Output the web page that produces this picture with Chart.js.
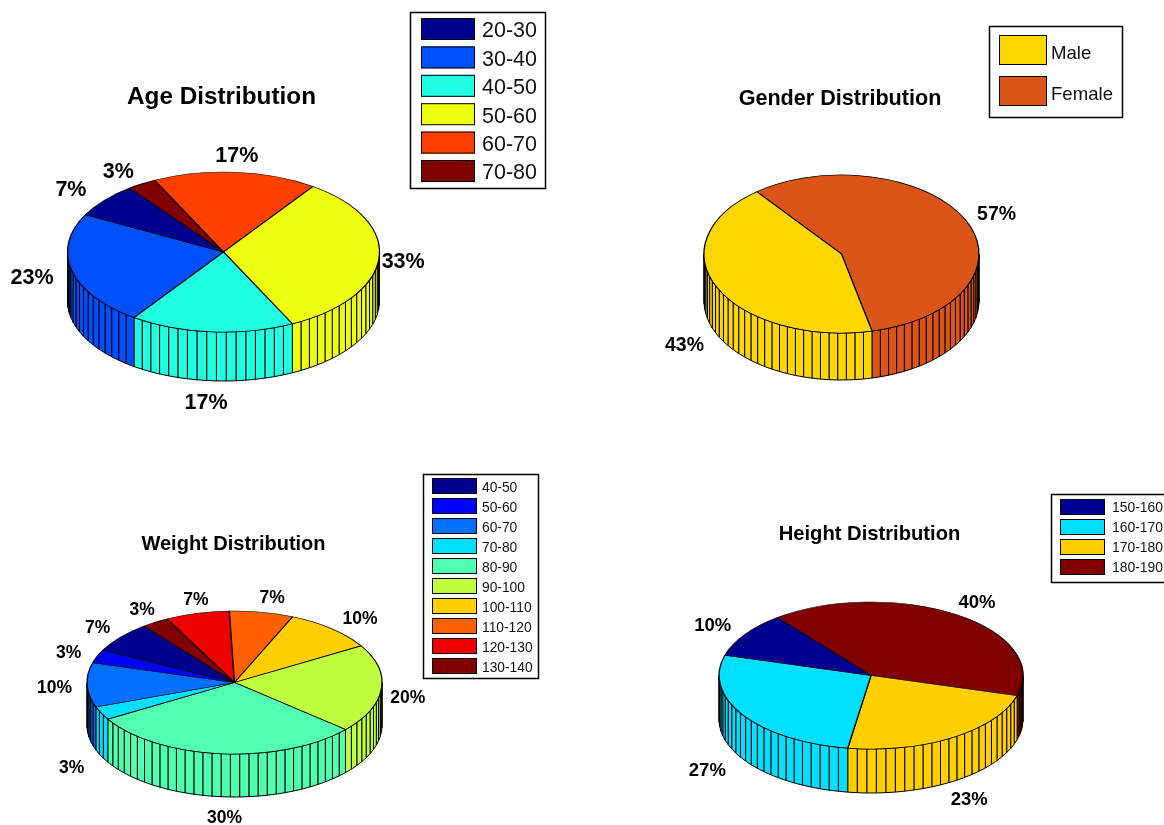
<!DOCTYPE html>
<html>
<head>
<meta charset="utf-8">
<title>Patient Distributions</title>
<script src="https://cdn.jsdelivr.net/npm/chart.js@4"></script>
<style>
  html, body { margin: 0; padding: 0; background: #fff; }
  #page { position: relative; width: 1164px; height: 825px; overflow: hidden; }
  canvas { position: absolute; }
</style>
</head>
<body>
<div id="page">
  <canvas id="ageChart" width="582" height="413" style="left:0;top:0"></canvas>
  <canvas id="genderChart" width="582" height="413" style="left:582px;top:0"></canvas>
  <canvas id="weightChart" width="582" height="413" style="left:0;top:412px"></canvas>
  <canvas id="heightChart" width="582" height="413" style="left:582px;top:412px"></canvas>
</div>
<script>
const ageLabels = ['20-30', '30-40', '40-50', '50-60', '60-70', '70-80'];
const ageValues = [7, 23, 17, 33, 17, 3];
const ageColors = ['#00008f', '#0050ff', '#20ffdf', '#efff10', '#ff4000', '#800000'];

const genderLabels = ['Male', 'Female'];
const genderValues = [43, 57];
const genderColors = ['#ffd700', '#db5519'];

const weightLabels = ['40-50', '50-60', '60-70', '70-80', '80-90', '90-100', '100-110', '110-120', '120-130', '130-140'];
const weightValues = [7, 3, 10, 3, 30, 20, 10, 7, 7, 3];
const weightColors = ['#00008f', '#0000ff', '#0070ff', '#00dfff', '#50ffaf', '#bfff40', '#ffcf00', '#ff6000', '#ef0000', '#800000'];

const heightLabels = ['150-160', '160-170', '170-180', '180-190'];
const heightValues = [10, 27, 23, 40];
const heightColors = ['#00008f', '#00dfff', '#ffcf00', '#800000'];

const FONT = '"Liberation Sans", Arial, sans-serif';

// Draws the rim below the pie, one facet per percent like the old 3D pies
function drawWall(chart, opts) {
  const ctx = chart.ctx;
  const arcs = chart.getDatasetMeta(0).data;
  const values = chart.data.datasets[0].data;
  const total = values.reduce((a, b) => a + b, 0);

  arcs.forEach((arc, i) => {
    const p = arc.getProps(['x', 'y', 'startAngle', 'endAngle', 'outerRadius']);
    const facets = Math.ceil(100 * values[i] / total);
    const step = (p.endAngle - p.startAngle) / facets;
    const rx = p.outerRadius;
    const ry = opts.ry;

    for (let f = 0; f < facets; f++) {
      const a0 = p.startAngle + f * step;
      const a1 = a0 + step;
      // only the part of a facet that faces the viewer
      for (let k = -4; k <= 4; k++) {
        const lo = Math.max(a0 + k * Math.PI, 0);
        const hi = Math.min(a1 + k * Math.PI, Math.PI);
        if (k % 2 !== 0 || hi <= lo) continue;
        const x0 = p.x + rx * Math.cos(lo), y0 = p.y + ry * Math.sin(lo);
        const x1 = p.x + rx * Math.cos(hi), y1 = p.y + ry * Math.sin(hi);
        ctx.beginPath();
        ctx.moveTo(x0, y0);
        ctx.lineTo(x1, y1);
        ctx.lineTo(x1, y1 + opts.depth);
        ctx.lineTo(x0, y0 + opts.depth);
        ctx.closePath();
        ctx.fillStyle = arc.options.backgroundColor;
        ctx.fill();
        ctx.strokeStyle = '#000';
        ctx.lineWidth = 1;
        ctx.stroke();
      }
    }
  });
}

function drawPercents(chart, opts) {
  const ctx = chart.ctx;
  const arcs = chart.getDatasetMeta(0).data;
  const n = arcs.length;

  ctx.font = 'bold ' + opts.labelSize + 'px ' + FONT;
  ctx.fillStyle = '#000';
  ctx.textAlign = 'center';
  ctx.textBaseline = 'middle';

  arcs.forEach((arc, i) => {
    const p = arc.getProps(['x', 'y', 'startAngle', 'endAngle', 'outerRadius']);
    const mid = (p.startAngle + p.endAngle) / 2;
    let x = p.x + 1.2 * p.outerRadius * Math.cos(mid);
    let y = p.y + 1.2 * opts.ry * Math.sin(mid);
    // labels of the front slices sit under the rim
    if (Math.sin(mid) > 0.3) y += opts.depth + 3;
    // dataset is reversed, the nudges follow the legend order
    const nudge = opts.labelNudge[n - 1 - i];
    ctx.fillText(chart.data.datasets[0].data[i] + '%', x + nudge[0], y + nudge[1] + 1.5);
  });
}

function drawLegend(chart, opts) {
  const ctx = chart.ctx;
  const box = opts.legend;
  const names = chart.data.labels.slice().reverse();
  const colors = chart.data.datasets[0].backgroundColor.slice().reverse();

  ctx.strokeStyle = '#000';
  ctx.lineWidth = 1.5;
  ctx.strokeRect(box.x, box.y, box.w, box.h);

  ctx.font = box.fontSize + 'px ' + FONT;
  ctx.textAlign = 'left';
  ctx.textBaseline = 'middle';
  names.forEach((name, i) => {
    const top = box.swatchY + i * box.rowStep;
    ctx.fillStyle = colors[i];
    ctx.fillRect(box.swatchX, top, box.swatchW, box.swatchH);
    ctx.lineWidth = 1;
    ctx.strokeStyle = '#000';
    ctx.strokeRect(box.swatchX + 0.5, top + 0.5, box.swatchW - 1, box.swatchH - 1);
    ctx.fillStyle = '#111';
    ctx.fillText(name, box.textX, top + box.swatchH / 2 + box.textDrop);
  });
}

const pie3d = {
  id: 'pie3d',
  beforeDatasetsDraw(chart, args, opts) {
    const ctx = chart.ctx;
    const arc = chart.getDatasetMeta(0).data[0];
    drawWall(chart, opts);
    // the library draws a round pie, squash it into the tilted top face
    ctx.save();
    ctx.translate(arc.x, arc.y);
    ctx.scale(1, opts.ry / arc.outerRadius);
    ctx.translate(-arc.x, -arc.y);
  },
  afterDatasetsDraw(chart, args, opts) {
    const ctx = chart.ctx;
    ctx.restore();
    drawPercents(chart, opts);
    drawLegend(chart, opts);
    ctx.font = 'bold ' + opts.titleSize + 'px ' + FONT;
    ctx.fillStyle = '#000';
    ctx.textAlign = 'center';
    ctx.textBaseline = 'middle';
    ctx.fillText(opts.title, opts.titleX, opts.titleY);
  }
};

// cx, cy are the middle of the top face inside the canvas
function makePie(id, labels, values, colors, cfg) {
  const w = 582, h = 413;
  const padX = w - 2 * cfg.cx;
  const padY = 2 * cfg.cy - h;
  return new Chart(document.getElementById(id), {
    type: 'pie',
    plugins: [pie3d],
    data: {
      labels: labels.slice().reverse(),
      datasets: [{
        data: values.slice().reverse(),
        backgroundColor: colors.slice().reverse(),
        borderColor: '#000',
        borderWidth: 1.3,
        clip: false
      }]
    },
    options: {
      responsive: false,
      animation: false,
      events: [],
      rotation: cfg.rotation,
      radius: cfg.rx,
      layout: {
        padding: {
          left: Math.max(-padX, 0),
          right: Math.max(padX, 0),
          top: Math.max(padY, 0),
          bottom: Math.max(-padY, 0)
        }
      },
      plugins: {
        legend: { display: false },
        title: { display: false },
        tooltip: { enabled: false },
        pie3d: cfg
      }
    }
  });
}

makePie('ageChart', ageLabels, ageValues, ageColors, {
  cx: 223.5, cy: 252, rx: 156, ry: 80, depth: 49, rotation: -37,
  title: 'Age Distribution', titleSize: 24.3, titleX: 221.5, titleY: 97,
  labelSize: 21.5,
  labelNudge: [[-10, -1], [-9.5, 2.4], [-3, 2], [-7, 1], [-1, -1.3], [-7, 0]],
  legend: { x: 410.5, y: 12.5, w: 135, h: 176, swatchX: 421, swatchY: 18, swatchW: 54, swatchH: 22, rowStep: 28.4, textX: 482, fontSize: 21.5, textDrop: 2.5 }
});

makePie('genderChart', genderLabels, genderValues, genderColors, {
  cx: 259.5, cy: 254, rx: 137.5, ry: 79, depth: 47, rotation: -38,
  title: 'Gender Distribution', titleSize: 21.6, titleX: 258, titleY: 99,
  labelSize: 19.5,
  labelNudge: [[-8, -1], [6, 0]],
  legend: { x: 407.5, y: 26.5, w: 133, h: 91, swatchX: 417, swatchY: 35, swatchW: 48, swatchH: 30, rowStep: 41, textX: 469, fontSize: 18.6, textDrop: 4 }
});

makePie('weightChart', weightLabels, weightValues, weightColors, {
  cx: 234.5, cy: 270.5, rx: 147.5, ry: 71.5, depth: 43, rotation: -38,
  title: 'Weight Distribution', titleSize: 20, titleX: 233.5, titleY: 132,
  labelSize: 17.5,
  labelNudge: [[0, -1], [-1, 0], [-3, 1], [-3, 1], [6, 3], [-3, 6], [9, 0], [5, -1], [6, -1], [3, -2]],
  legend: { x: 423.5, y: 62.5, w: 115, h: 204, swatchX: 432, swatchY: 66, swatchW: 45, swatchH: 16, rowStep: 20, textX: 482, fontSize: 13.8, textDrop: 2 }
});

makePie('heightChart', heightLabels, heightValues, heightColors, {
  cx: 289, cy: 263.5, rx: 152, ry: 73.5, depth: 44, rotation: -38,
  title: 'Height Distribution', titleSize: 20.2, titleX: 287.5, titleY: 122,
  labelSize: 18.5,
  labelNudge: [[-7, -2], [-10, -1], [0, 2], [4, -1]],
  legend: { x: 469.5, y: 82.5, w: 140, h: 88, swatchX: 478, swatchY: 87, swatchW: 45, swatchH: 16, rowStep: 20, textX: 530, fontSize: 13.9, textDrop: 1.5 }
});
</script>
</body>
</html>
